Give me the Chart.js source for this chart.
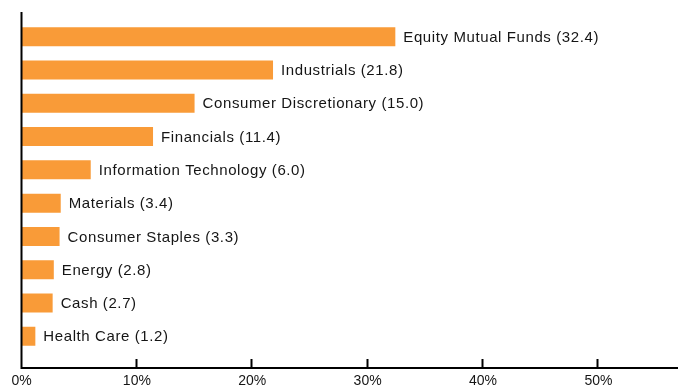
<!DOCTYPE html>
<html>
<head>
<meta charset="utf-8">
<script src="https://cdn.jsdelivr.net/npm/chart.js@4/dist/chart.umd.min.js"></script>
<style>
  html, body { margin: 0; padding: 0; background: #ffffff; }
  #wrap { width: 678px; height: 387px; position: relative; }
</style>
</head>
<body>
<div id="wrap"><canvas id="sectorChart"></canvas></div>
<script>
// Sector allocation, percent of net assets
const sectors = [
    'Equity Mutual Funds',
    'Industrials',
    'Consumer Discretionary',
    'Financials',
    'Information Technology',
    'Materials',
    'Consumer Staples',
    'Energy',
    'Cash',
    'Health Care'
];
const weights = [32.4, 21.8, 15.0, 11.4, 6.0, 3.4, 3.3, 2.8, 2.7, 1.2];
const axisTicks = [0, 10, 20, 30, 40, 50];

const barColor = '#F99B38';
const textColor = '#151515';
const fontFamily = '"Liberation Sans", Arial, sans-serif';

// name + value label just past the end of each bar
const barLabels = {
    id: 'barLabels',
    afterDatasetsDraw(chart) {
        const ctx = chart.ctx;
        const meta = chart.getDatasetMeta(0);
        ctx.save();
        ctx.font = '15px ' + fontFamily;
        ctx.letterSpacing = '0.6px';
        ctx.fillStyle = textColor;
        ctx.textAlign = 'left';
        ctx.textBaseline = 'middle';
        meta.data.forEach(function (bar, i) {
            ctx.fillText(sectors[i] + ' (' + weights[i].toFixed(1) + ')', bar.x + 8, bar.y + 1);
        });
        ctx.restore();
    }
};

// black L-shaped frame with upward tick marks on the value axis
const axisFrame = {
    id: 'axisFrame',
    afterDraw(chart) {
        const ctx = chart.ctx;
        const xScale = chart.scales.x;
        const left = Math.round(xScale.getPixelForValue(0)) - 0.5;
        const top = chart.chartArea.top - 8;
        const bottom = chart.chartArea.bottom + 15;
        ctx.save();
        ctx.strokeStyle = '#000000';
        ctx.lineWidth = 2;
        ctx.beginPath();
        ctx.moveTo(left, top);
        ctx.lineTo(left, bottom);
        ctx.lineTo(chart.width, bottom);
        ctx.stroke();
        axisTicks.forEach(function (t) {
            if (t === 0) return;
            const x = Math.round(xScale.getPixelForValue(t)) - 0.5;
            ctx.beginPath();
            ctx.moveTo(x, bottom);
            ctx.lineTo(x, bottom - 9);
            ctx.stroke();
        });
        ctx.restore();
    }
};

document.addEventListener('DOMContentLoaded', function () {
    const ctx = document.getElementById('sectorChart').getContext('2d');
    new Chart(ctx, {
        type: 'bar',
        data: {
            labels: sectors,
            datasets: [{
                data: weights,
                backgroundColor: barColor,
                borderWidth: 0,
                categoryPercentage: 1,
                barPercentage: 0.57
            }]
        },
        options: {
            indexAxis: 'y',
            responsive: true,
            maintainAspectRatio: false,
            animation: false,
            layout: {
                padding: { left: 21.5, right: 0, top: 20, bottom: 0 }
            },
            scales: {
                x: {
                    min: 0,
                    max: 56.9,
                    afterBuildTicks: function (axis) {
                        axis.ticks = axisTicks.map(function (v) { return { value: v }; });
                    },
                    afterFit: function (scale) {
                        scale.height = 34;
                        scale.paddingLeft = 0;
                        scale.paddingRight = 0;
                    },
                    grid: { display: false, drawTicks: false },
                    border: { display: false },
                    ticks: {
                        padding: 20,
                        color: textColor,
                        maxRotation: 0,
                        font: { family: fontFamily, size: 14 },
                        callback: function (v) { return v + '%'; }
                    }
                },
                y: {
                    display: false
                }
            },
            plugins: {
                legend: { display: false },
                tooltip: { enabled: false }
            }
        },
        plugins: [barLabels, axisFrame]
    });
});
</script>
</body>
</html>
